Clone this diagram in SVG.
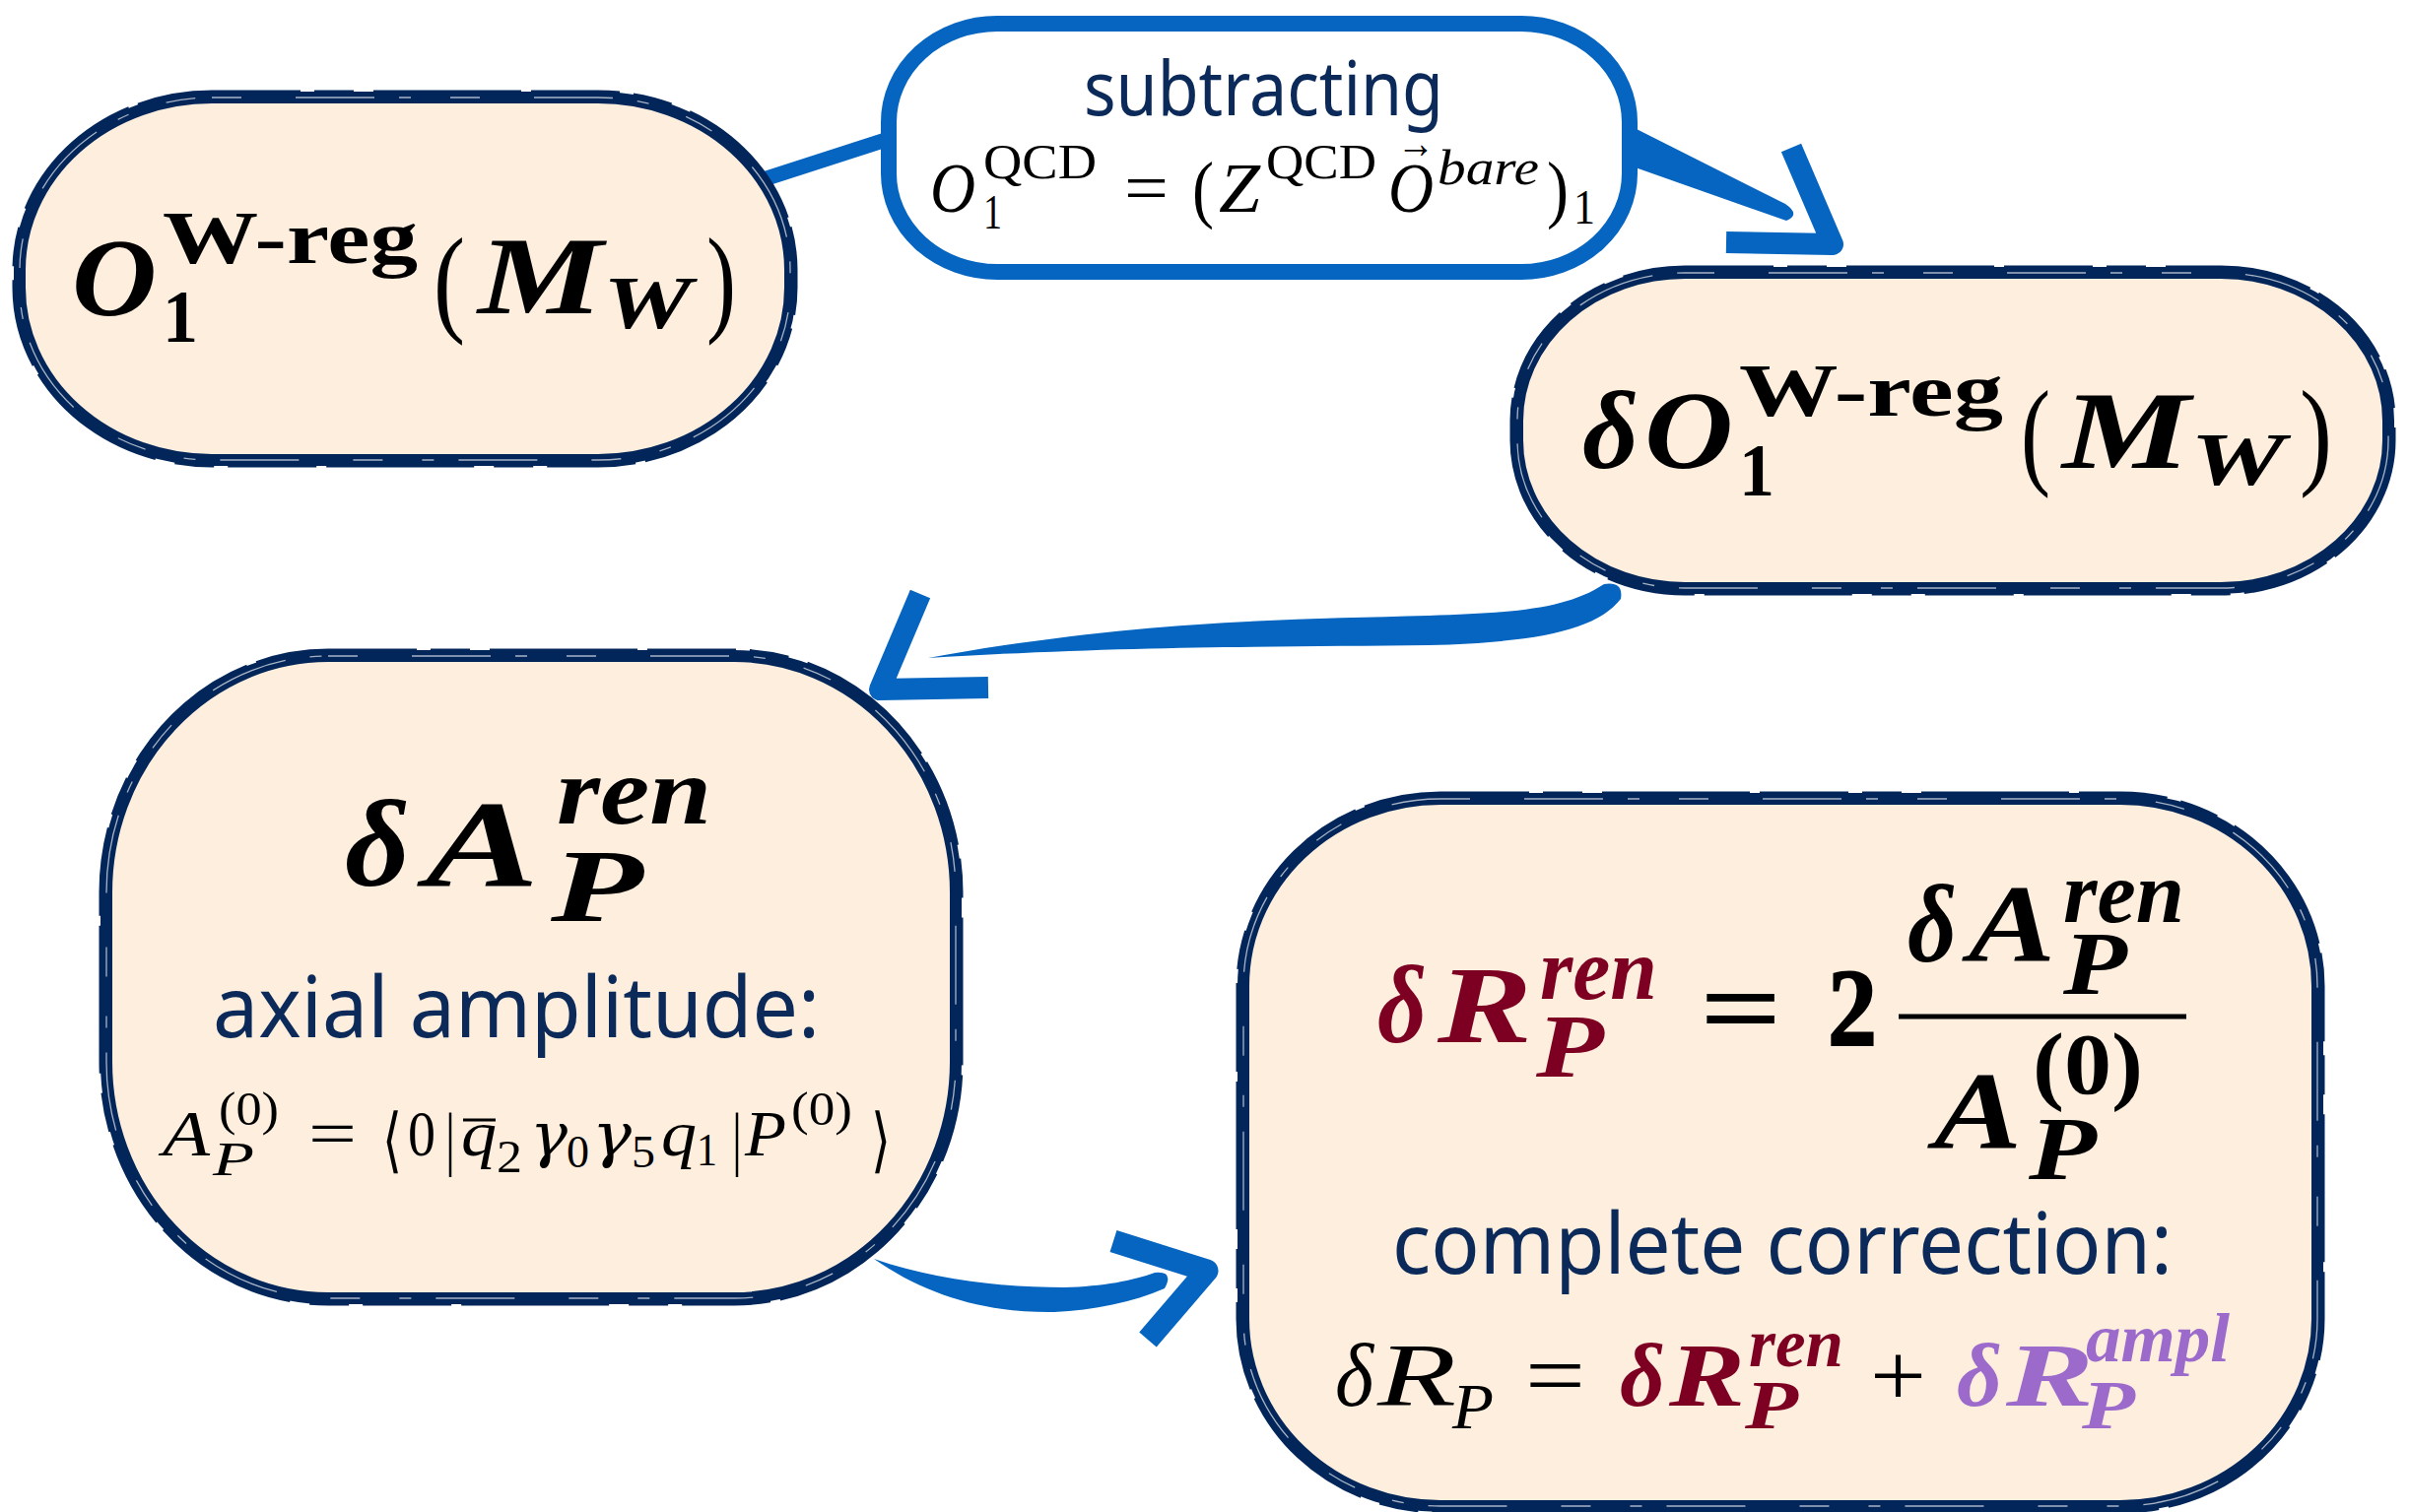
<svg xmlns="http://www.w3.org/2000/svg" width="2445" height="1535" viewBox="0 0 2445 1535">
<style>
.m{font-family:"Liberation Serif","DejaVu Serif",serif;fill:#000}
.g{font-family:"DejaVu Serif","Liberation Serif",serif;font-style:italic;fill:#000}
.bi{font-weight:bold;font-style:italic}
.b{font-weight:bold}
.i{font-style:italic}
.red{fill:#7d0022}
.pur{fill:#9b6acb}
.sans{font-family:"Noto Sans","Open Sans",sans-serif;fill:#0b2a5a}
.nb{fill:#fdeede;stroke:#03265a;stroke-width:12}
.tx{fill:none;stroke:#03265a;stroke-width:3;stroke-dasharray:90 14 40 20 150 10}
.wx{fill:none;stroke:#ffffff;stroke-width:1.3;stroke-dasharray:30 55 80 25 12 40;opacity:.65}
.blue{fill:#0565c0}
.bs{fill:none;stroke:#0565c0;stroke-linejoin:round}
</style>
<rect width="2445" height="1535" fill="#ffffff"/>
<g id="connectors">
  <path class="bs" d="M772,183 L902,141" stroke-width="15"/>
  <path class="blue" d="M1655,128 L1812,207 Q1828,218 1813,224 L1654,168 Z"/>
  <path class="bs" d="M1818,150 L1860,248 L1752,246" stroke-width="22"/>
  <path class="blue" d="M1628,593 C1590,618 1540,622 1450,625 C1300,629 1150,630 942,668 C1150,655 1300,657 1450,655 C1560,652 1620,640 1645,608 Q1648,590 1628,593 Z"/>
  <path class="bs" d="M934,603 L893,700 L1003,698" stroke-width="22"/>
  <path class="blue" d="M887,1278 C950,1300 1020,1307 1080,1307 C1120,1306 1150,1300 1172,1292 Q1192,1290 1182,1308 C1150,1322 1110,1330 1070,1332 C1000,1333 940,1315 887,1278 Z"/>
  <path class="bs" d="M1130,1260 L1225,1290 L1165,1360" stroke-width="23"/>
</g>
<g id="node-o1">
  <rect class="nb" x="20" y="99" width="782" height="368" rx="195" ry="175"/>
  <rect class="tx" x="14" y="93" width="794" height="380" rx="201" ry="181"/>
  <rect class="wx" x="20" y="99" width="782" height="368" rx="195" ry="175"/>
  <text class="m bi" x="73" y="320" font-size="112" textLength="86" lengthAdjust="spacingAndGlyphs">O</text>
  <text class="m b" x="165" y="267" font-size="76" textLength="259" lengthAdjust="spacingAndGlyphs">W-reg</text>
  <text class="m b" x="165" y="347" font-size="76" textLength="36" lengthAdjust="spacingAndGlyphs">1</text>
  <text class="m" x="440" y="325" font-size="120" textLength="32" lengthAdjust="spacingAndGlyphs">(</text>
  <text class="m bi" x="485" y="318" font-size="112" textLength="127" lengthAdjust="spacingAndGlyphs">M</text>
  <text class="m bi" x="612" y="333" font-size="76" textLength="90" lengthAdjust="spacingAndGlyphs">W</text>
  <text class="m" x="717" y="325" font-size="120" textLength="30" lengthAdjust="spacingAndGlyphs">)</text>
</g>
<g id="node-subtracting">
  <rect x="902" y="24" width="752" height="252" rx="110" ry="100" fill="#ffffff" stroke="#0565c0" stroke-width="16"/>
  <text class="sans" x="1100" y="117" font-size="76" textLength="365" lengthAdjust="spacingAndGlyphs">subtracting</text>
  <text class="m i" x="944" y="215" font-size="72" textLength="46" lengthAdjust="spacingAndGlyphs">O</text>
  <text class="m" x="998" y="181" font-size="50" textLength="115" lengthAdjust="spacingAndGlyphs">QCD</text>
  <text class="m" x="998" y="232" font-size="50" textLength="19" lengthAdjust="spacingAndGlyphs">1</text>
  <text class="m" x="1141" y="215" font-size="72" textLength="45" lengthAdjust="spacingAndGlyphs">=</text>
  <text class="m" x="1210" y="217" font-size="76" textLength="22" lengthAdjust="spacingAndGlyphs">(</text>
  <text class="m i" x="1237" y="215" font-size="72" textLength="42" lengthAdjust="spacingAndGlyphs">Z</text>
  <text class="m" x="1285" y="181" font-size="50" textLength="112" lengthAdjust="spacingAndGlyphs">QCD</text>
  <text class="m i" x="1409" y="215" font-size="72" textLength="46" lengthAdjust="spacingAndGlyphs">O</text>
  <text class="m" x="1418" y="160" font-size="44" textLength="38" lengthAdjust="spacingAndGlyphs">→</text>
  <text class="m i" x="1459" y="187" font-size="50" textLength="103" lengthAdjust="spacingAndGlyphs">bare</text>
  <text class="m" x="1570" y="217" font-size="76" textLength="22" lengthAdjust="spacingAndGlyphs">)</text>
  <text class="m" x="1597" y="227" font-size="50" textLength="22" lengthAdjust="spacingAndGlyphs">1</text>
</g>
<g id="node-delta-o1">
  <rect class="nb" x="1540" y="277" width="884" height="320" rx="170" ry="150"/>
  <rect class="tx" x="1534" y="271" width="896" height="332" rx="176" ry="156"/>
  <rect class="wx" x="1540" y="277" width="884" height="320" rx="170" ry="150"/>
  <text class="m bi" x="1606" y="475" font-size="112" textLength="57" lengthAdjust="spacingAndGlyphs">δ</text>
  <text class="m bi" x="1669" y="475" font-size="112" textLength="90" lengthAdjust="spacingAndGlyphs">O</text>
  <text class="m b" x="1765" y="422" font-size="76" textLength="268" lengthAdjust="spacingAndGlyphs">W-reg</text>
  <text class="m b" x="1765" y="503" font-size="76" textLength="36" lengthAdjust="spacingAndGlyphs">1</text>
  <text class="m" x="2051" y="480" font-size="120" textLength="30" lengthAdjust="spacingAndGlyphs">(</text>
  <text class="m bi" x="2093" y="475" font-size="112" textLength="130" lengthAdjust="spacingAndGlyphs">M</text>
  <text class="m bi" x="2223" y="492" font-size="76" textLength="96" lengthAdjust="spacingAndGlyphs">W</text>
  <text class="m" x="2334" y="480" font-size="120" textLength="33" lengthAdjust="spacingAndGlyphs">)</text>
</g>
<g id="node-delta-a">
  <rect class="nb" x="108" y="666" width="862" height="652" rx="225" ry="240"/>
  <rect class="tx" x="102" y="660" width="874" height="664" rx="231" ry="246"/>
  <rect class="wx" x="108" y="666" width="862" height="652" rx="225" ry="240"/>
  <text class="m bi" x="350" y="899" font-size="125" textLength="66" lengthAdjust="spacingAndGlyphs">δ</text>
  <text class="m bi" x="432" y="899" font-size="125" textLength="115" lengthAdjust="spacingAndGlyphs">A</text>
  <text class="m bi" x="565" y="836" font-size="98" textLength="157" lengthAdjust="spacingAndGlyphs">ren</text>
  <text class="m bi" x="559" y="935" font-size="105" textLength="94" lengthAdjust="spacingAndGlyphs">P</text>
  <text class="sans" x="216" y="1053" font-size="86" textLength="616" lengthAdjust="spacingAndGlyphs">axial amplitude:</text>
  <text class="m i" x="165" y="1173" font-size="66" textLength="48" lengthAdjust="spacingAndGlyphs">A</text>
  <text class="m" x="222" y="1142" font-size="48" textLength="61" lengthAdjust="spacingAndGlyphs">(0)</text>
  <text class="m i" x="216" y="1193" font-size="48" textLength="42" lengthAdjust="spacingAndGlyphs">P</text>
  <text class="m" x="313" y="1173" font-size="66" textLength="49" lengthAdjust="spacingAndGlyphs">=</text>
  <text class="m" x="388" y="1182" font-size="72" textLength="20" lengthAdjust="spacingAndGlyphs">⟨</text>
  <text class="m" x="414" y="1173" font-size="66" textLength="28" lengthAdjust="spacingAndGlyphs">0</text>
  <text class="m" x="452" y="1180" font-size="72" textLength="10" lengthAdjust="spacingAndGlyphs">|</text>
  <line x1="470" y1="1137" x2="503" y2="1137" stroke="#000" stroke-width="3"/>
  <text class="m i" x="468" y="1173" font-size="66" textLength="36" lengthAdjust="spacingAndGlyphs">q</text>
  <text class="m" x="504" y="1190" font-size="46" textLength="26" lengthAdjust="spacingAndGlyphs">2</text>
  <text class="g" x="538" y="1173" font-size="62" textLength="38" lengthAdjust="spacingAndGlyphs">γ</text>
  <text class="m" x="575" y="1185" font-size="46" textLength="23" lengthAdjust="spacingAndGlyphs">0</text>
  <text class="g" x="601" y="1173" font-size="62" textLength="40" lengthAdjust="spacingAndGlyphs">γ</text>
  <text class="m" x="641" y="1185" font-size="46" textLength="24" lengthAdjust="spacingAndGlyphs">5</text>
  <text class="m i" x="671" y="1173" font-size="66" textLength="36" lengthAdjust="spacingAndGlyphs">q</text>
  <text class="m" x="707" y="1183" font-size="46" textLength="21" lengthAdjust="spacingAndGlyphs">1</text>
  <text class="m" x="743" y="1180" font-size="72" textLength="10" lengthAdjust="spacingAndGlyphs">|</text>
  <text class="m i" x="756" y="1173" font-size="66" textLength="42" lengthAdjust="spacingAndGlyphs">P</text>
  <text class="m" x="803" y="1142" font-size="48" textLength="62" lengthAdjust="spacingAndGlyphs">(0)</text>
  <text class="m" x="884" y="1182" font-size="72" textLength="20" lengthAdjust="spacingAndGlyphs">⟩</text>
</g>
<g id="node-delta-r">
  <rect class="nb" x="1262" y="811" width="1090" height="718" rx="200" ry="190"/>
  <rect class="tx" x="1256" y="805" width="1102" height="730" rx="206" ry="196"/>
  <rect class="wx" x="1262" y="811" width="1090" height="718" rx="200" ry="190"/>
  <text class="m bi red" x="1398" y="1058" font-size="112" textLength="50" lengthAdjust="spacingAndGlyphs">δ</text>
  <text class="m bi red" x="1459" y="1058" font-size="112" textLength="96" lengthAdjust="spacingAndGlyphs">R</text>
  <text class="m bi red" x="1563" y="1014" font-size="88" textLength="119" lengthAdjust="spacingAndGlyphs">ren</text>
  <text class="m bi red" x="1559" y="1093" font-size="92" textLength="69" lengthAdjust="spacingAndGlyphs">P</text>
  <text class="m b" x="1725" y="1061" font-size="112" textLength="84" lengthAdjust="spacingAndGlyphs">=</text>
  <text class="m b" x="1855" y="1061" font-size="112" textLength="50" lengthAdjust="spacingAndGlyphs" stroke="#000" stroke-width="2">2</text>
  <line x1="1927" y1="1032" x2="2219" y2="1032" stroke="#000" stroke-width="5"/>
  <text class="m bi" x="1936" y="976" font-size="112" textLength="50" lengthAdjust="spacingAndGlyphs">δ</text>
  <text class="m bi" x="1998" y="976" font-size="112" textLength="88" lengthAdjust="spacingAndGlyphs">A</text>
  <text class="m bi" x="2094" y="936" font-size="88" textLength="123" lengthAdjust="spacingAndGlyphs">ren</text>
  <text class="m bi" x="2094" y="1009" font-size="92" textLength="65" lengthAdjust="spacingAndGlyphs">P</text>
  <text class="m bi" x="1963" y="1166" font-size="112" textLength="89" lengthAdjust="spacingAndGlyphs">A</text>
  <text class="m b" x="2063" y="1110" font-size="88" textLength="112" lengthAdjust="spacingAndGlyphs">(0)</text>
  <text class="m bi" x="2059" y="1197" font-size="92" textLength="69" lengthAdjust="spacingAndGlyphs">P</text>
  <text class="sans" x="1413" y="1293" font-size="86" textLength="792" lengthAdjust="spacingAndGlyphs">complete correction:</text>
  <text class="m i" x="1355" y="1427" font-size="92" textLength="39" lengthAdjust="spacingAndGlyphs">δ</text>
  <text class="m i" x="1398" y="1427" font-size="92" textLength="80" lengthAdjust="spacingAndGlyphs">R</text>
  <text class="m i" x="1474" y="1450" font-size="66" textLength="42" lengthAdjust="spacingAndGlyphs">P</text>
  <text class="m" x="1548" y="1427" font-size="92" textLength="61" lengthAdjust="spacingAndGlyphs">=</text>
  <text class="m bi red" x="1644" y="1427" font-size="92" textLength="46" lengthAdjust="spacingAndGlyphs">δ</text>
  <text class="m bi red" x="1694" y="1427" font-size="92" textLength="77" lengthAdjust="spacingAndGlyphs">R</text>
  <text class="m bi red" x="1775" y="1387" font-size="70" textLength="96" lengthAdjust="spacingAndGlyphs">ren</text>
  <text class="m bi red" x="1771" y="1450" font-size="70" textLength="54" lengthAdjust="spacingAndGlyphs">P</text>
  <text class="m" x="1898" y="1427" font-size="92" textLength="57" lengthAdjust="spacingAndGlyphs">+</text>
  <text class="m bi pur" x="1986" y="1427" font-size="92" textLength="46" lengthAdjust="spacingAndGlyphs">δ</text>
  <text class="m bi pur" x="2036" y="1427" font-size="92" textLength="89" lengthAdjust="spacingAndGlyphs">R</text>
  <text class="m bi pur" x="2117" y="1382" font-size="70" textLength="146" lengthAdjust="spacingAndGlyphs">ampl</text>
  <text class="m bi pur" x="2113" y="1450" font-size="70" textLength="54" lengthAdjust="spacingAndGlyphs">P</text>
</g>
</svg>
